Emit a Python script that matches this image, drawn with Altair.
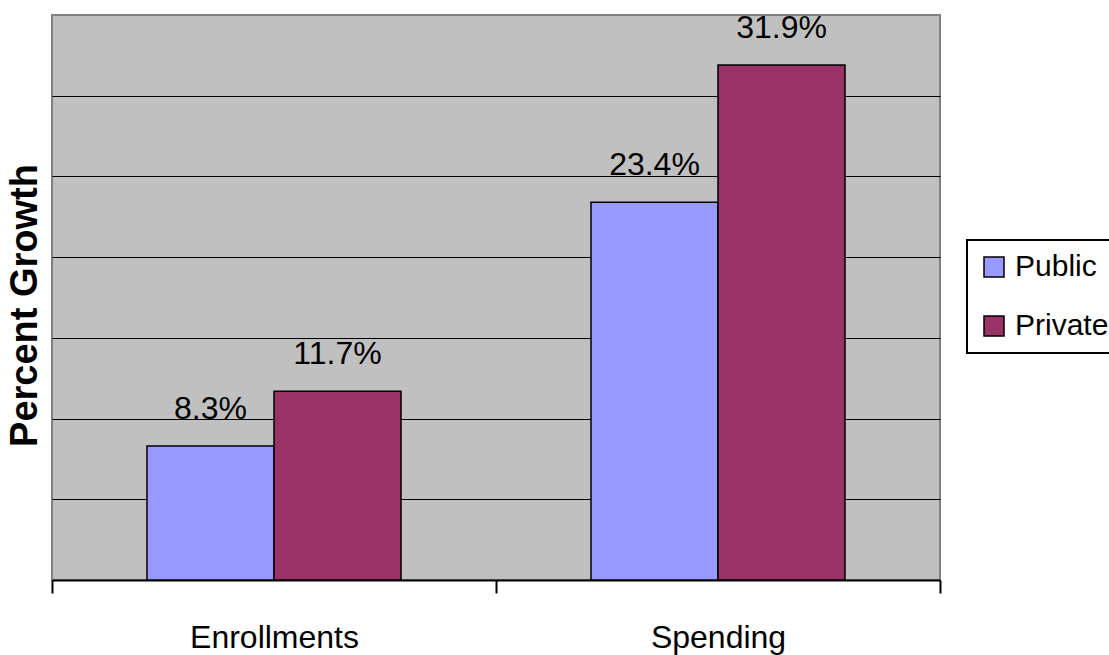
import altair as alt
import pandas as pd

categories = ["Enrollments", "Spending"]
sectors = ["Public", "Private"]
public_values = [8.3, 23.4]
private_values = [11.7, 31.9]
colors = ["#9999FF", "#993366"]
grid_values = [5, 10, 15, 20, 25, 30]

rows = []
for i, cat in enumerate(categories):
    for sec, vals in zip(sectors, [public_values, private_values]):
        rows.append({"category": cat, "sector": sec, "value": vals[i], "label": f"{vals[i]}%"})
df = pd.DataFrame(rows)

FONT = "Liberation Sans"

x_scale = alt.Scale(paddingInner=0, paddingOuter=0)
xo_scale = alt.Scale(paddingInner=0, paddingOuter=0.748)

x_enc = alt.X(
    "category:N",
    sort=categories,
    scale=x_scale,
    axis=alt.Axis(
        title=None,
        labelAngle=0,
        tickBand="extent",
        tickSize=13,
        tickWidth=2,
        tickColor="black",
        domainColor="black",
        domainWidth=2,
        labelFont=FONT,
        labelFontSize=32,
        labelColor="black",
        labelBaseline="alphabetic",
        labelPadding=54,
        grid=False,
    ),
)
xo_enc = alt.XOffset("sector:N", sort=sectors, scale=xo_scale)
y_enc = alt.Y(
    "value:Q",
    scale=alt.Scale(domain=[0, 35], nice=False),
    axis=alt.Axis(
        title="Percent Growth",
        titleFont=FONT,
        titleFontSize=38,
        titleFontWeight="bold",
        titleColor="black",
        titleX=-16,
        titleY=290,
        titleAngle=270,
        titleBaseline="alphabetic",
        titleAlign="center",
        values=grid_values,
        grid=True,
        gridColor="black",
        gridWidth=1,
        gridOpacity=1,
        ticks=False,
        labels=False,
        domain=False,
    ),
)

bars = alt.Chart(df).mark_bar(stroke="black", strokeWidth=1.5).encode(
    x=x_enc,
    xOffset=xo_enc,
    y=y_enc,
    color=alt.Color(
        "sector:N",
        sort=sectors,
        scale=alt.Scale(domain=sectors, range=colors),
        legend=alt.Legend(
            title=None,
            orient="none",
            legendX=915,
            legendY=225,
            symbolType="square",
            symbolSize=400,
            symbolStrokeColor="black",
            symbolStrokeWidth=1.5,
            symbolOpacity=1,
            labelFont=FONT,
            labelFontSize=30,
            labelColor="black",
            labelOffset=6,
            labelLimit=300,
            rowPadding=29,
            padding=12,
            strokeColor="black",
            fillColor="white",
        ),
    ),
)

labels = alt.Chart(df).mark_text(
    font=FONT, fontSize=32, color="black", baseline="alphabetic", dy=-27
).encode(
    x=alt.X("category:N", sort=categories, scale=x_scale),
    xOffset=alt.XOffset("sector:N", sort=sectors, scale=xo_scale),
    y=alt.Y("value:Q"),
    text="label:N",
)

chart = (
    alt.layer(bars, labels)
    .properties(
        width=888,
        height=565,
        autosize=alt.AutoSizeParams(type="none"),
        padding={"left": 52, "top": 15, "right": 169, "bottom": 75},
        background="white",
    )
    .configure_view(fill="#C0C0C0", stroke="#808080", strokeWidth=2)
    .configure_legend(strokeWidth=2)
)

chart.save("out.html", embed_options={"renderer": "svg", "actions": False})
